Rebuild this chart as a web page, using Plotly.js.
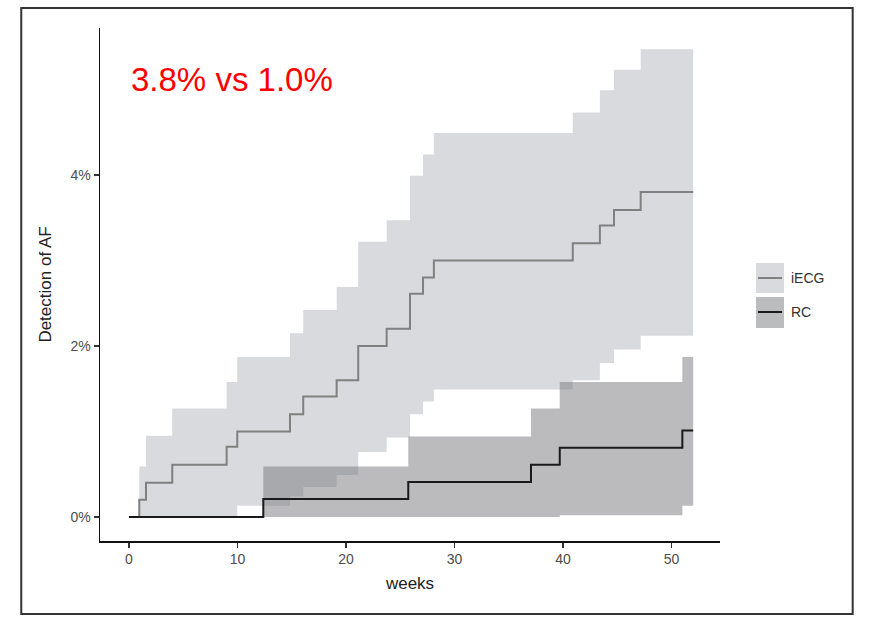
<!DOCTYPE html>
<html>
<head>
<meta charset="utf-8">
<script src="https://cdn.plot.ly/plotly-3.0.1.min.js"></script>
<style>
  html, body { margin: 0; padding: 0; background: #ffffff; }
  #chart { width: 876px; height: 633px; }
</style>
</head>
<body>
<div id="chart"></div>
<script>
// ---- Data (weeks, % detection of AF) ----
var iecgWeeks = [0, 0.95, 1.57, 3.99, 9.0, 9.98, 14.84, 16.06, 19.14, 21.13, 23.75, 25.9, 27.1, 28.1, 40.9, 43.4, 44.7, 47.16, 52.0];
var iecgValues = [0, 0.2, 0.4, 0.61, 0.82, 1.0, 1.2, 1.41, 1.6, 2.0, 2.2, 2.61, 2.8, 3.0, 3.2, 3.41, 3.59, 3.8, 3.8];

var iecgUpperWeeks = [0.95, 1.57, 3.99, 9.0, 9.98, 14.84, 16.06, 19.14, 21.13, 23.75, 25.9, 27.1, 28.1, 40.9, 43.4, 44.7, 47.16, 52.0];
var iecgUpper = [0.59, 0.95, 1.27, 1.58, 1.87, 2.15, 2.42, 2.69, 3.22, 3.47, 3.99, 4.24, 4.49, 4.73, 4.99, 5.23, 5.47, 5.47];

var iecgLowerWeeks = [0.95, 9.98, 14.84, 16.06, 19.14, 21.13, 23.75, 25.9, 27.1, 28.1, 40.9, 43.4, 44.7, 47.16, 52.0];
var iecgLower = [0, 0.13, 0.24, 0.35, 0.49, 0.76, 0.93, 1.2, 1.35, 1.49, 1.6, 1.8, 1.96, 2.12, 2.12];

var rcWeeks = [0, 12.38, 25.74, 37.05, 39.7, 51.0, 52.0];
var rcValues = [0, 0.21, 0.41, 0.61, 0.81, 1.01, 1.01];

var rcUpperWeeks = [12.38, 25.74, 37.05, 39.7, 51.0, 52.0];
var rcUpper = [0.59, 0.94, 1.27, 1.58, 1.87, 1.87];

var rcLowerWeeks = [12.38, 39.7, 51.0, 52.0];
var rcLower = [0, 0.02, 0.13, 0.13];

var xTicks = [0, 10, 20, 30, 40, 50];
var yTicks = [0, 2, 4];
var yTickLabels = ['0%', '2%', '4%'];
var seriesNames = ['iECG', 'RC'];
var headline = '3.8% vs 1.0%';

// ---- Styles ----
var iecgFill = 'rgb(217,218,221)';
var rcFill = 'rgba(119,120,124,0.5)';
var rcKeyFill = 'rgb(187,188,190)';
var iecgLine = '#808080';
var rcLine = '#1a1a1a';
var fontFam = 'Liberation Sans, Arial, sans-serif';

var traces = [
  { x: iecgUpperWeeks, y: iecgUpper, mode: 'lines', line: { shape: 'hv', width: 0 }, showlegend: false, hoverinfo: 'skip' },
  { x: iecgLowerWeeks, y: iecgLower, mode: 'lines', line: { shape: 'hv', width: 0 }, fill: 'tonexty', fillcolor: iecgFill, showlegend: false, hoverinfo: 'skip' },
  { x: rcUpperWeeks, y: rcUpper, mode: 'lines', line: { shape: 'hv', width: 0 }, showlegend: false, hoverinfo: 'skip' },
  { x: rcLowerWeeks, y: rcLower, mode: 'lines', line: { shape: 'hv', width: 0 }, fill: 'tonexty', fillcolor: rcFill, showlegend: false, hoverinfo: 'skip' },
  { x: iecgWeeks, y: iecgValues, name: seriesNames[0], mode: 'lines', line: { shape: 'hv', width: 2, color: iecgLine }, showlegend: false },
  { x: rcWeeks, y: rcValues, name: seriesNames[1], mode: 'lines', line: { shape: 'hv', width: 2, color: rcLine }, showlegend: false }
];

var layout = {
  width: 876, height: 633,
  margin: { l: 100, r: 156, t: 28, b: 92, pad: 0 },
  paper_bgcolor: '#ffffff', plot_bgcolor: '#ffffff',
  font: { family: fontFam, color: '#333333' },
  showlegend: false,
  xaxis: {
    range: [-2.67, 54.47], tickvals: xTicks, showgrid: false, zeroline: false,
    showline: true, linecolor: '#111111', linewidth: 1.5,
    ticks: 'outside', ticklen: 5, tickwidth: 1.2, tickcolor: '#333333',
    tickfont: { size: 14, color: '#4d4d4d', family: fontFam },
    title: { text: 'weeks', font: { size: 17, color: '#222222', family: fontFam }, standoff: 11 }
  },
  yaxis: {
    range: [-0.281, 5.719], tickmode: 'array', tickvals: yTicks, ticktext: yTickLabels, showgrid: false, zeroline: false,
    showline: true, linecolor: '#111111', linewidth: 1.5,
    ticks: 'outside', ticklen: 5, tickwidth: 1.2, tickcolor: '#333333',
    tickfont: { size: 14, color: '#4d4d4d', family: fontFam },
    title: { text: 'Detection of AF', font: { size: 17, color: '#222222', family: fontFam }, standoff: 14 }
  },
  annotations: [
    { text: headline, xref: 'paper', yref: 'paper', x: 0.046, y: 0.899, xanchor: 'left', yanchor: 'middle',
      showarrow: false, font: { size: 33, color: '#ff0000', family: fontFam } },
    { text: seriesNames[0], xref: 'paper', yref: 'paper', x: 1.111, y: 0.5127, xanchor: 'left', yanchor: 'middle',
      showarrow: false, font: { size: 14, color: '#333333', family: fontFam } },
    { text: seriesNames[1], xref: 'paper', yref: 'paper', x: 1.111, y: 0.4464, xanchor: 'left', yanchor: 'middle',
      showarrow: false, font: { size: 14, color: '#333333', family: fontFam } }
  ],
  shapes: [
    // legend keys
    { type: 'rect', xref: 'paper', yref: 'paper', x0: 1.058, x1: 1.1032, y0: 0.4834, y1: 0.5419, fillcolor: iecgFill, line: { width: 0 } },
    { type: 'line', xref: 'paper', yref: 'paper', x0: 1.0613, x1: 1.1, y0: 0.5127, y1: 0.5127, line: { color: iecgLine, width: 2 } },
    { type: 'rect', xref: 'paper', yref: 'paper', x0: 1.058, x1: 1.1032, y0: 0.4152, y1: 0.4756, fillcolor: rcKeyFill, line: { width: 0 } },
    { type: 'line', xref: 'paper', yref: 'paper', x0: 1.0613, x1: 1.1, y0: 0.4464, y1: 0.4464, line: { color: rcLine, width: 2 } },
    // outer frame
    { type: 'rect', xref: 'paper', yref: 'paper', x0: -0.127, x1: 1.214, y0: -0.1424, y1: 1.039, line: { color: '#333333', width: 2 }, fillcolor: 'rgba(0,0,0,0)' }
  ]
};

Plotly.newPlot('chart', traces, layout, { displayModeBar: false, staticPlot: true });
</script>
</body>
</html>
